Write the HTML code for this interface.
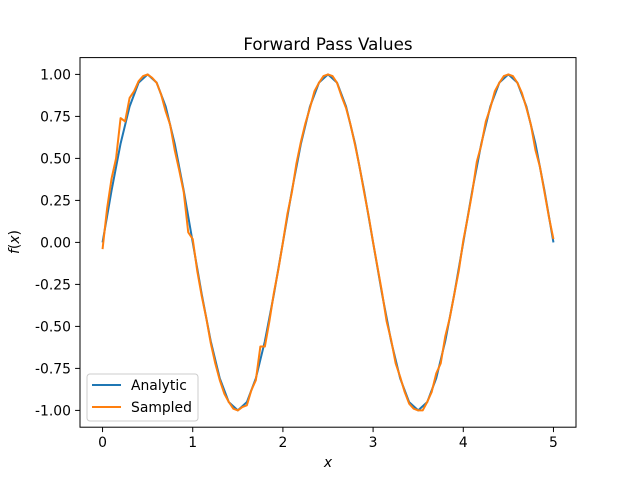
<!DOCTYPE html>
<html><head><meta charset="utf-8"><style>
body{margin:0;background:#fff}
svg text{font-family:"DejaVu Sans","Liberation Sans",sans-serif;fill:#000}
</style></head><body>
<svg id="c" width="640" height="480" xmlns="http://www.w3.org/2000/svg" style="position:absolute;left:0;top:0">
<rect width="640" height="480" fill="#fff"/>
<g id="plot"></g>
</svg>
<script>
const xTicks=[0,1,2,3,4,5];
const yTicks=[-1.00,-0.75,-0.50,-0.25,0.00,0.25,0.50,0.75,1.00];
const analyticX=[0,0.1,0.2,0.3,0.4,0.5,0.6,0.7,0.8,0.9,1,1.1,1.2,1.3,1.4,1.5,1.6,1.7,1.8,1.9,2,2.1,2.2,2.3,2.4,2.5,2.6,2.7,2.8,2.9,3,3.1,3.2,3.3,3.4,3.5,3.6,3.7,3.8,3.9,4,4.1,4.2,4.3,4.4,4.5,4.6,4.7,4.8,4.9,5];
const analyticY=[0,0.309,0.588,0.809,0.951,1,0.951,0.809,0.588,0.309,0,-0.309,-0.588,-0.809,-0.951,-1,-0.951,-0.809,-0.588,-0.309,0,0.309,0.588,0.809,0.951,1,0.951,0.809,0.588,0.309,0,-0.309,-0.588,-0.809,-0.951,-1,-0.951,-0.809,-0.588,-0.309,0,0.309,0.588,0.809,0.951,1,0.951,0.809,0.588,0.309,0];
const sampledY=[-0.04,0.2,0.38,0.5,0.74,0.72,0.86,0.9,0.96,0.99,1.0,0.98,0.95,0.88,0.78,0.70,0.55,0.43,0.30,0.06,0.02,
-0.17,-0.32,-0.45,-0.6,-0.72,-0.82,-0.9,-0.95,-0.99,-1.0,-0.98,-0.97,-0.88,-0.82,-0.62,-0.62,-0.47,-0.30,-0.16,0.0,
0.17,0.30,0.47,0.6,0.71,0.80,0.90,0.95,0.99,1.0,0.99,0.95,0.87,0.80,0.70,0.58,0.45,0.30,0.16,0.0,
-0.15,-0.30,-0.47,-0.58,-0.72,-0.80,-0.89,-0.96,-0.99,-1.0,-1.0,-0.95,-0.89,-0.78,-0.72,-0.56,-0.45,-0.31,-0.17,0.01,
0.15,0.30,0.48,0.58,0.72,0.80,0.90,0.95,0.99,1.0,0.99,0.95,0.89,0.80,0.70,0.55,0.45,0.30,0.15,0.02];
const sampledStep=0.05;

const L=80,R=576,T=57.6,B=427.2,xmin=-0.25,xmax=5.25,ymin=-1.1,ymax=1.1;
const sx=v=>L+(v-xmin)/(xmax-xmin)*(R-L);
const sy=v=>B-(v-ymin)/(ymax-ymin)*(B-T);
const NS="http://www.w3.org/2000/svg";
const g=document.getElementById('plot');
function mk(tag,attrs,parent){const e=document.createElementNS(NS,tag);for(const k in attrs)e.setAttribute(k,attrs[k]);(parent||g).appendChild(e);return e;}

function line(xs,ys,color,name){
  const d=xs.map((x,i)=>(i?'L':'M')+sx(x).toFixed(2)+','+sy(ys[i]).toFixed(2)).join('');
  const p=mk('path',{d:d,fill:'none',stroke:color,'stroke-width':2,'stroke-linejoin':'round'});
  
  
}
line(analyticX,analyticY,'#1f77b4','analytic-line');
line(sampledY.map((_,i)=>i*sampledStep),sampledY,'#ff7f0e','sampled-line');

const frame=mk('rect',{x:L,y:T,width:R-L,height:B-T,fill:'none',stroke:'#000','stroke-width':1});



xTicks.forEach(v=>{
  const x=sx(v);
  mk('line',{x1:x,x2:x,y1:B,y2:B+4.9,stroke:'#000','stroke-width':1});
  const t=mk('text',{x:x,y:B+20,'text-anchor':'middle','font-size':13.9});
  t.textContent=v;
  
  
});
yTicks.forEach(v=>{
  const y=sy(v);
  mk('line',{x1:L-4.9,x2:L,y1:y,y2:y,stroke:'#000','stroke-width':1});
  const t=mk('text',{x:L-9,y:y+5,'text-anchor':'end','font-size':13.9});
  t.textContent=v.toFixed(2);
  
  
});
</script>
<svg style="position:absolute;left:0;top:0" width="640" height="480" xmlns="http://www.w3.org/2000/svg">
<text x="328" y="50" text-anchor="middle" font-size="16.7" style="font-family:'DejaVu Sans',sans-serif">Forward Pass Values</text>
<text x="328" y="467" text-anchor="middle" font-size="13.9" font-style="italic" style="font-family:'DejaVu Sans',sans-serif">x</text>
<text transform="translate(19,242) rotate(-90)" text-anchor="middle" font-size="13.9" style="font-family:'DejaVu Sans',sans-serif"><tspan font-style="italic">f</tspan>(<tspan font-style="italic">x</tspan>)</text>
<g>
<rect x="87" y="374" width="111" height="47" rx="3" fill="#fff" fill-opacity="0.8" stroke="#ccc" stroke-width="1"/>
<line x1="92" x2="121" y1="385" y2="385" stroke="#1f77b4" stroke-width="2"/>
<text x="131" y="390" font-size="13.9" style="font-family:'DejaVu Sans',sans-serif">Analytic</text>
<line x1="92" x2="121" y1="407" y2="407" stroke="#ff7f0e" stroke-width="2"/>
<text x="131" y="412" font-size="13.9" style="font-family:'DejaVu Sans',sans-serif">Sampled</text>
</g>
</svg>
</body></html>
